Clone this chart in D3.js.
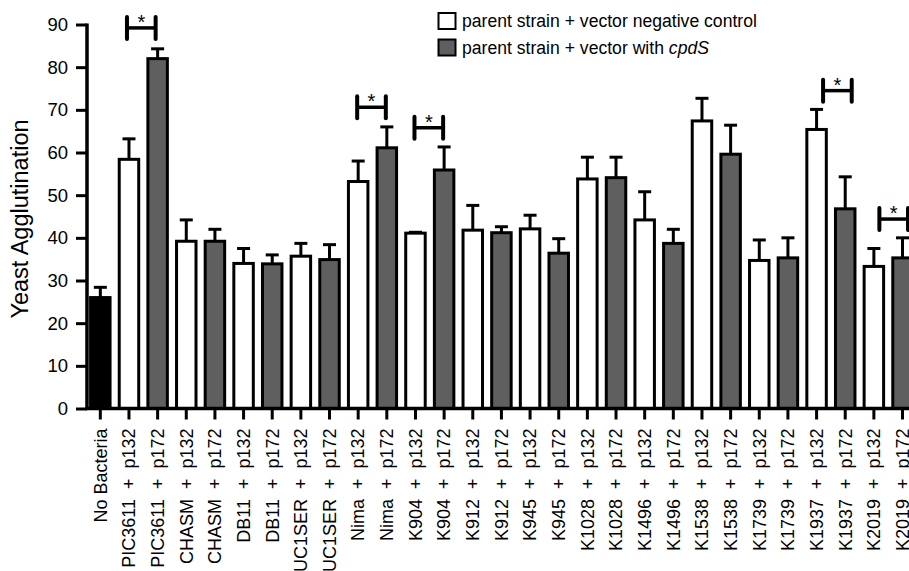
<!DOCTYPE html>
<html>
<head>
<meta charset="utf-8">
<script src="https://cdn.jsdelivr.net/npm/d3@7"></script>
<style>
  html, body { margin: 0; padding: 0; background: #fff; }
  svg { display: block; font-family: "Liberation Sans", Arial, Helvetica, sans-serif; }
</style>
</head>
<body>
<svg id="chart" width="909" height="571"></svg>
<script>
// ---- data ----
const strains = ["No Bacteria","PIC3611","PIC3611","CHASM","CHASM","DB11","DB11","UC1SER","UC1SER",
  "Nima","Nima","K904","K904","K912","K912","K945","K945","K1028","K1028","K1496","K1496",
  "K1538","K1538","K1739","K1739","K1937","K1937","K2019","K2019"];
const plasmids = ["", "p132","p172","p132","p172","p132","p172","p132","p172",
  "p132","p172","p132","p172","p132","p172","p132","p172","p132","p172","p132","p172",
  "p132","p172","p132","p172","p132","p172","p132","p172"];
const groups = ["none","neg","cpdS","neg","cpdS","neg","cpdS","neg","cpdS",
  "neg","cpdS","neg","cpdS","neg","cpdS","neg","cpdS","neg","cpdS","neg","cpdS",
  "neg","cpdS","neg","cpdS","neg","cpdS","neg","cpdS"];
const means = [26.0, 58.4, 82.0, 39.2, 39.2, 34.0, 33.9, 35.7, 34.9,
  53.2, 61.1, 41.1, 55.9, 41.8, 41.2, 42.1, 36.4, 53.8, 54.1, 44.2, 38.7,
  67.4, 59.6, 34.7, 35.3, 65.4, 46.8, 33.3, 35.3];
const errors = [2.4, 4.8, 2.3, 5.0, 2.8, 3.5, 2.1, 3.0, 3.5,
  4.8, 4.9, 0.2, 5.4, 5.8, 1.4, 3.2, 3.4, 5.1, 4.8, 6.6, 3.3,
  5.3, 6.8, 4.8, 4.7, 4.7, 7.5, 4.2, 4.7];
const yTicks = [0, 10, 20, 30, 40, 50, 60, 70, 80, 90];
// significance brackets: [first bar index, second bar index, height in y units]
const sigFrom = [1, 9, 11, 25, 27];
const sigTo   = [2, 10, 12, 26, 28];
const sigY    = [89.2, 70.6, 65.8, 74.5, 44.4];
const legendLabels = ["parent strain + vector negative control", "parent strain + vector with "];
const legendItalic = ["", "cpdS"];
const legendGroups = ["neg", "cpdS"];

const labels = strains.map((s, i) => plasmids[i] ? s + "\u00a0\u00a0+\u00a0\u00a0" + plasmids[i] : s);
const fills = { none: "#000000", neg: "#ffffff", cpdS: "#5f5f5f" };

// ---- layout ----
const svg = d3.select("#chart");
const x = d3.scaleBand().domain(d3.range(labels.length)).range([86, 86 + 28.65 * labels.length])
  .paddingInner(0.32).paddingOuter(0.16);
const y = d3.scaleLinear().domain([0, 90]).range([408.5, 24.5]);
const axisX = 87;
const baseY = y(0);

// bars
const bars = svg.append("g");
labels.forEach((lab, i) => {
  const cx = x(i) + x.bandwidth() / 2;
  bars.append("line").attr("x1", cx).attr("x2", cx)
    .attr("y1", y(means[i])).attr("y2", y(means[i] + errors[i]))
    .attr("stroke", "#000").attr("stroke-width", 3);
  bars.append("line").attr("x1", cx - 6.5).attr("x2", cx + 6.5)
    .attr("y1", y(means[i] + errors[i])).attr("y2", y(means[i] + errors[i]))
    .attr("stroke", "#000").attr("stroke-width", 3);
  bars.append("rect")
    .attr("x", x(i)).attr("width", x.bandwidth())
    .attr("y", y(means[i])).attr("height", baseY - y(means[i]))
    .attr("fill", fills[groups[i]]).attr("stroke", "#000").attr("stroke-width", 3);
});

// y axis
const yAxis = svg.append("g").attr("transform", `translate(${axisX},0)`)
  .call(d3.axisLeft(y).tickValues(yTicks).tickSize(11).tickSizeOuter(0).tickPadding(8));
yAxis.select(".domain").attr("stroke-width", 3.5).attr("d", `M0,${y(90) - 1}V${baseY}`);
yAxis.selectAll(".tick line").attr("stroke-width", 3);
yAxis.selectAll(".tick text").attr("font-size", 18.5).attr("fill", "#000")
  .attr("font-family", "Liberation Sans, Arial, sans-serif");

// x axis
const xAxis = svg.append("g").attr("transform", `translate(0,${baseY})`)
  .call(d3.axisBottom(x).tickFormat(i => labels[i]).tickSize(11).tickSizeOuter(0));
xAxis.select(".domain").attr("stroke-width", 3.5).attr("d", `M${axisX - 1.5},0H${909 + 20}`);
xAxis.selectAll(".tick line").attr("stroke-width", 3);
xAxis.selectAll(".tick text")
  .attr("font-size", 18).attr("fill", "#000")
  .attr("font-family", "Liberation Sans, Arial, sans-serif")
  .attr("transform", "rotate(-90)")
  .attr("x", -20).attr("y", 0).attr("dy", "0.35em")
  .style("text-anchor", "end");

// y title
svg.append("text").attr("transform", `translate(28,219) rotate(-90)`)
  .attr("text-anchor", "middle").attr("font-size", 23.5).attr("fill", "#000")
  .text("Yeast Agglutination");

// significance brackets
const sigShift = [-2, -1, -1, 6.5, 5.5];
const sig = svg.append("g");
sigFrom.forEach((a, k) => {
  const x1 = x(a) + x.bandwidth() / 2 + sigShift[k];
  const x2 = x(sigTo[k]) + x.bandwidth() / 2 + sigShift[k];
  const yy = y(sigY[k]);
  sig.append("line").attr("x1", x1).attr("x2", x2).attr("y1", yy).attr("y2", yy)
    .attr("stroke", "#000").attr("stroke-width", 3.5);
  [x1, x2].forEach(xx => sig.append("line").attr("x1", xx).attr("x2", xx)
    .attr("y1", yy - 11).attr("y2", yy + 11)
    .attr("stroke", "#000").attr("stroke-width", 4).attr("stroke-linecap", "round"));
  sig.append("text").attr("x", (x1 + x2) / 2).attr("y", yy + 1)
    .attr("text-anchor", "middle").attr("font-size", 20).attr("fill", "#000").text("*");
});

// legend
const leg = svg.append("g");
legendLabels.forEach((t, k) => {
  const cy = 21 + k * 26.5;
  leg.append("rect").attr("x", 438.5).attr("y", cy - 8).attr("width", 17).attr("height", 16)
    .attr("fill", fills[legendGroups[k]]).attr("stroke", "#000").attr("stroke-width", 2);
  const tx = leg.append("text").attr("x", 462).attr("y", cy).attr("dy", "0.35em")
    .attr("font-size", 17.6).attr("fill", "#000").text(t);
  if (legendItalic[k]) tx.append("tspan").attr("font-style", "italic").text(legendItalic[k]);
});
</script>
</body>
</html>
